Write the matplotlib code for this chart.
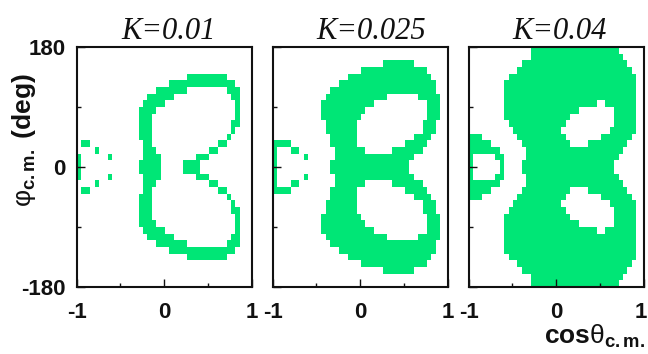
import numpy as np
import matplotlib
matplotlib.use("Agg")
import matplotlib.pyplot as plt
import matplotlib.transforms as mtransforms
from matplotlib.colors import ListedColormap

plt.rcParams["font.family"] = ["Liberation Sans", "DejaVu Sans"]
plt.rcParams["mathtext.fontset"] = "custom"
plt.rcParams["mathtext.rm"] = "Liberation Sans:bold"
plt.rcParams["mathtext.bf"] = "Liberation Sans:bold"
plt.rcParams["mathtext.sf"] = "Liberation Sans"
plt.rcParams["mathtext.it"] = "Liberation Sans:italic"

# ---- data: filled bins (cos-theta bin index ranges, inclusive) per phi row,
# rows from phi=+180 (top) down to phi=-180 (bottom); 40 cos bins x 36 phi bins
titles = ["K=0.01", "K=0.025", "K=0.04"]
n_cos = 40
n_phi = 36

rows_k001 = [
    [], [], [], [],
    [(25, 33)],
    [(21, 35)],
    [(18, 24), (34, 36)],
    [(16, 21), (35, 36)],
    [(15, 19), (36, 36)],
    [(14, 17), (36, 36)],
    [(14, 16), (36, 36)],
    [(14, 16), (35, 36)],
    [(14, 16), (35, 35)],
    [(14, 16), (34, 34)],
    [(1, 2), (15, 16), (32, 33)],
    [(4, 4), (15, 17), (30, 31)],
    [(0, 0), (7, 7), (15, 18), (27, 29)],
    [(0, 0), (14, 18), (24, 27)],
    [(0, 0), (14, 18), (24, 27)],
    [(0, 0), (7, 7), (15, 18), (27, 29)],
    [(4, 4), (15, 17), (30, 31)],
    [(1, 2), (15, 16), (32, 33)],
    [(14, 16), (34, 34)],
    [(14, 16), (35, 35)],
    [(14, 16), (35, 36)],
    [(14, 16), (36, 36)],
    [(14, 17), (36, 36)],
    [(15, 19), (36, 36)],
    [(16, 21), (35, 36)],
    [(18, 24), (34, 36)],
    [(21, 35)],
    [(25, 33)],
    [], [], [], [],
]

rows_k0025 = [
    [], [],
    [(25, 31)],
    [(20, 34)],
    [(17, 35)],
    [(15, 36)],
    [(13, 36)],
    [(12, 25), (33, 37)],
    [(11, 22), (35, 37)],
    [(11, 20), (35, 37)],
    [(11, 19), (35, 37)],
    [(12, 18), (34, 36)],
    [(12, 18), (34, 36)],
    [(13, 18), (32, 35)],
    [(0, 3), (13, 18), (30, 34)],
    [(0, 0), (4, 5), (14, 20), (27, 33)],
    [(0, 0), (7, 7), (14, 31)],
    [(0, 0), (13, 30)],
    [(0, 0), (13, 30)],
    [(0, 0), (7, 7), (14, 31)],
    [(0, 0), (4, 5), (14, 20), (27, 33)],
    [(0, 3), (13, 18), (30, 34)],
    [(13, 18), (32, 35)],
    [(12, 18), (34, 36)],
    [(12, 18), (34, 36)],
    [(11, 19), (35, 37)],
    [(11, 20), (35, 37)],
    [(11, 22), (35, 37)],
    [(12, 25), (33, 37)],
    [(13, 36)],
    [(15, 36)],
    [(17, 35)],
    [(20, 34)],
    [(25, 31)],
    [], [],
]

rows_k004 = [
    [(14, 33)],
    [(14, 34)],
    [(12, 35)],
    [(11, 36)],
    [(9, 37)],
    [(8, 37)],
    [(8, 37)],
    [(8, 37)],
    [(8, 28), (31, 37)],
    [(8, 24), (33, 37)],
    [(8, 22), (33, 37)],
    [(9, 21), (33, 37)],
    [(10, 20), (32, 37)],
    [(0, 2), (11, 21), (30, 36)],
    [(0, 4), (12, 22), (27, 35)],
    [(0, 6), (13, 34)],
    [(0, 0), (6, 7), (13, 33)],
    [(0, 0), (7, 7), (12, 32)],
    [(0, 0), (7, 7), (12, 32)],
    [(0, 0), (6, 7), (13, 33)],
    [(0, 6), (13, 34)],
    [(0, 4), (12, 22), (27, 35)],
    [(0, 2), (11, 21), (30, 36)],
    [(10, 20), (32, 37)],
    [(9, 21), (33, 37)],
    [(8, 22), (33, 37)],
    [(8, 24), (33, 37)],
    [(8, 28), (31, 37)],
    [(8, 37)],
    [(8, 37)],
    [(8, 37)],
    [(9, 37)],
    [(11, 36)],
    [(12, 35)],
    [(14, 34)],
    [(14, 33)],
]

panels = [rows_k001, rows_k0025, rows_k004]

xticks_major = [-1, 0, 1]
xticklabels = ["-1", "0", "1"]
xticks_minor = [-0.5, 0.5]
yticks_major = [-180, 0, 180]
yticklabels = ["-180", "0", "180"]
yticks_minor = [-90, 90]

GREEN = "#00e676"
cmap = ListedColormap(["white", GREEN])


def build(rows):
    m = np.zeros((n_phi, n_cos))
    for j, segs in enumerate(rows):
        for a, b in segs:
            m[j, a:b + 1] = 1
    return m


W, H = 648, 354
fig = plt.figure(figsize=(W / 100, H / 100), dpi=100)

lefts = [76.5, 272.5, 468.5]
ax_w = 175.5
ax_top, ax_bot = 47, 287
title_x = [169, 371, 560]

for i, rows in enumerate(panels):
    ax = fig.add_axes([lefts[i] / W, 1 - ax_bot / H, ax_w / W, (ax_bot - ax_top) / H])
    ax.imshow(build(rows), extent=(-1, 1, -180, 180), origin="upper",
              aspect="auto", cmap=cmap, vmin=0, vmax=1, interpolation="nearest")
    ax.set_xlim(-1, 1)
    ax.set_ylim(-180, 180)
    ax.set_xticks(xticks_major)
    ax.set_xticks(xticks_minor, minor=True)
    ax.set_xticklabels(xticklabels, fontsize=16, fontweight="bold")
    ax.set_yticks(yticks_major)
    ax.set_yticks(yticks_minor, minor=True)
    if i == 0:
        ax.set_yticklabels(yticklabels, fontsize=16, fontweight="bold")
    else:
        ax.set_yticklabels([])
    ax.tick_params(which="major", direction="in", length=6, width=1,
                   top=False, right=False, colors="#111111")
    ax.tick_params(which="minor", direction="in", length=3, width=1,
                   top=False, right=False, colors="#111111")
    ax.tick_params(axis="x", which="major", pad=11)
    ax.tick_params(axis="y", which="major", pad=8)
    for sp in ax.spines.values():
        sp.set_linewidth(1.5)
        sp.set_color("#111111")
    if i == len(panels) - 1:
        lab = ax.get_xticklabels()[-1]
        lab.set_transform(lab.get_transform() + mtransforms.ScaledTranslation(-3 / 100, 0, fig.dpi_scale_trans))
    fig.text(title_x[i] / W, 1 - 39 / H, titles[i], ha="center", va="baseline",
             fontsize=22, family="Liberation Serif", style="italic", color="#111111")

fig.text(645 / W, 1 - 344 / H, r"$\mathbf{cos}\mathsf{\theta}_{\mathbf{c.m.}}$",
         ha="right", va="baseline", fontsize=19, color="#111111")
fig.text(24 / W, 1 - 140 / H, r"$\mathsf{\varphi}_{\mathbf{c.m.}}\ \mathbf{(deg)}$",
         ha="center", va="center", rotation=90, fontsize=19, color="#111111")

fig.savefig("out.png", dpi=100)
